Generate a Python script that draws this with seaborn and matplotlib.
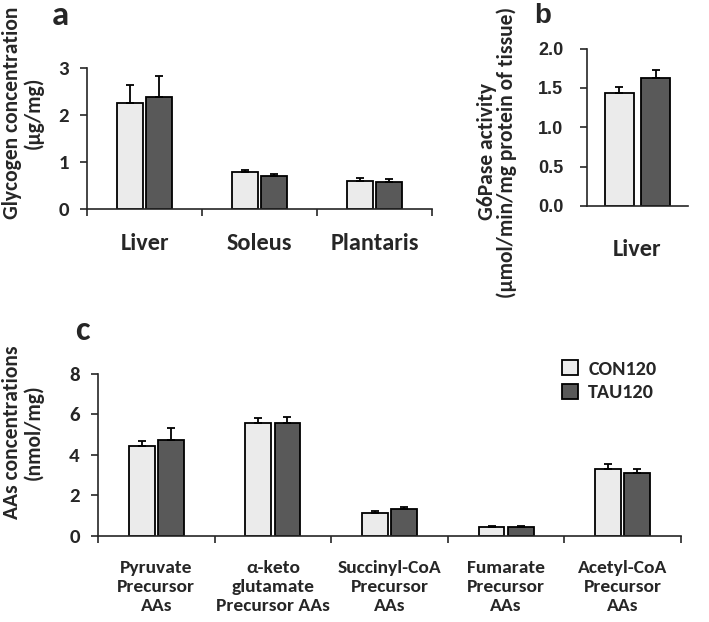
import numpy as np
import pandas as pd
import seaborn as sns
import matplotlib.pyplot as plt

# dados
tecidos = ["Liver", "Soleus", "Plantaris"]
glic_con = [2.25, 0.79, 0.59]
glic_con_err = [0.39, 0.04, 0.07]
glic_tau = [2.38, 0.71, 0.58]
glic_tau_err = [0.45, 0.03, 0.06]

g6p_cat = ["Liver"]
g6p_con = [1.43]
g6p_con_err = [0.08]
g6p_tau = [1.63]
g6p_tau_err = [0.10]

aa_cat = ["Pyruvate\nPrecursor\nAAs", "α-keto\nglutamate\nPrecursor AAs",
          "Succinyl-CoA\nPrecursor\nAAs", "Fumarate\nPrecursor\nAAs",
          "Acetyl-CoA\nPrecursor\nAAs"]
aa_con = [4.42, 5.57, 1.15, 0.46, 3.32]
aa_con_err = [0.26, 0.23, 0.08, 0.05, 0.23]
aa_tau = [4.74, 5.57, 1.33, 0.44, 3.10]
aa_tau_err = [0.59, 0.31, 0.11, 0.03, 0.22]

grupos = ["CON120", "TAU120"]
cores = ["#EBEBEB", "#595959"]

sns.set_style("ticks")
plt.rcParams['font.family'] = ['Carlito', 'DejaVu Sans']
plt.rcParams['font.weight'] = 'bold'
plt.rcParams['axes.linewidth'] = 1.2
arial = ['Liberation Sans', 'DejaVu Sans']

fig = plt.figure(figsize=(7.09, 6.22), dpi=100)
ax_a = fig.add_axes([87 / 709, 1 - 209 / 622, 345 / 709, 141 / 622])
ax_b = fig.add_axes([587 / 709, 1 - 206 / 622, 101 / 709, 157.5 / 622])
ax_c = fig.add_axes([98 / 709, 1 - 536 / 622, 583 / 709, 162.3 / 622])


def barras(ax, cats, con, con_err, tau, tau_err, largura, gap, legenda=False):
    df = pd.DataFrame({
        "cat": cats * 2,
        "grupo": [grupos[0]] * len(cats) + [grupos[1]] * len(cats),
        "valor": con + tau,
    })
    sns.barplot(data=df, x="cat", y="valor", hue="grupo", hue_order=grupos,
                palette=cores, saturation=1, width=largura, gap=gap,
                edgecolor="black", linewidth=1.3, errorbar=None,
                legend=legenda, ax=ax)
    for cont, err in zip(list(ax.containers)[:2], [con_err, tau_err]):
        xs = [p.get_x() + p.get_width() / 2 for p in cont]
        ys = [p.get_height() for p in cont]
        ax.errorbar(xs, ys, yerr=[np.zeros(len(err)), err], fmt="none",
                    ecolor="black", elinewidth=1.3, capsize=3, capthick=1.3,
                    zorder=3)
    n = len(cats)
    ax.set_xlim(-0.5, n - 0.5)
    ax.set_xlabel("")
    ax.set_ylabel("")
    sns.despine(ax=ax)


# painel a
barras(ax_a, tecidos, glic_con, glic_con_err, glic_tau, glic_tau_err, 0.504, 0.103)
ax_a.set_ylim(0, 3)
ax_a.set_yticks([0, 1, 2, 3])
ax_a.set_xticks(np.arange(-0.5, 3, 1), minor=True)
ax_a.tick_params(axis="x", which="major", length=0, pad=17, labelsize=17.5)
ax_a.tick_params(axis="x", which="minor", length=5, width=1.2, direction="out")
ax_a.tick_params(axis="y", length=5, width=1.2, pad=8, labelsize=15)

# painel b
barras(ax_b, g6p_cat, g6p_con, g6p_con_err, g6p_tau, g6p_tau_err, 0.713, 0.195)
ax_b.set_ylim(0, 2)
ax_b.set_yticks([0, 0.5, 1.0, 1.5, 2.0])
ax_b.set_yticklabels(["0.0", "0.5", "1.0", "1.5", "2.0"], family=arial)
ax_b.tick_params(axis="x", length=0, pad=24, labelsize=17.5)
ax_b.tick_params(axis="y", length=5, width=1.2, pad=12, labelsize=13)

# painel c
barras(ax_c, aa_cat, aa_con, aa_con_err, aa_tau, aa_tau_err, 0.5, 0.12, legenda=True)
ax_c.set_ylim(0, 8)
ax_c.set_yticks([0, 2, 4, 6, 8])
ax_c.set_xticks(np.arange(-0.5, 5, 1), minor=True)
ax_c.tick_params(axis="x", which="major", length=0, pad=17, labelsize=14)
ax_c.tick_params(axis="x", which="minor", length=5, width=1.2, direction="out")
ax_c.tick_params(axis="y", length=5, width=1.2, pad=8, labelsize=15)
for t in ax_c.get_xticklabels():
    t.set_linespacing(1.25)
sns.move_legend(ax_c, "upper left", bbox_to_anchor=(562 / 709, 1 - 360 / 622),
                bbox_transform=fig.transFigure, title=None, frameon=False,
                fontsize=14.5, handlelength=0.8, handleheight=0.8,
                handletextpad=0.5, labelspacing=0.3, borderaxespad=0, borderpad=0)

# negrito em todos os rótulos
for ax in [ax_a, ax_b, ax_c]:
    for t in ax.get_xticklabels() + ax.get_yticklabels():
        t.set_fontweight("bold")
for t in ax_c.get_legend().get_texts():
    t.set_fontweight("bold")

# rótulos dos eixos y
fig.text(23 / 709, 1 - 113 / 622, "Glycogen concentration\n(µg/mg)", rotation=90,
         ha="center", va="center", fontsize=15.5, linespacing=1.1, weight="bold")
fig.text(497 / 709, 1 - 152 / 622, "G6Pase activity\n(µmol/min/mg protein of tissue)",
         rotation=90, ha="center", va="center", fontsize=15.5, linespacing=1.0,
         weight="bold")
fig.text(23 / 709, 1 - 432 / 622, "AAs concentrations\n(nmol/mg)", rotation=90,
         ha="center", va="center", fontsize=15.5, linespacing=1.1, weight="bold")

# letras dos painéis
fig.text(52 / 709, 1 - 25 / 622, "a", fontsize=25, ha="left", va="baseline", weight="bold")
fig.text(534 / 709, 1 - 23 / 622, "b", fontsize=20, ha="left", va="baseline",
         family=arial, weight="bold")
fig.text(75 / 709, 1 - 340 / 622, "c", fontsize=25, ha="left", va="baseline", weight="bold")

fig.savefig("out.png", dpi=100)
